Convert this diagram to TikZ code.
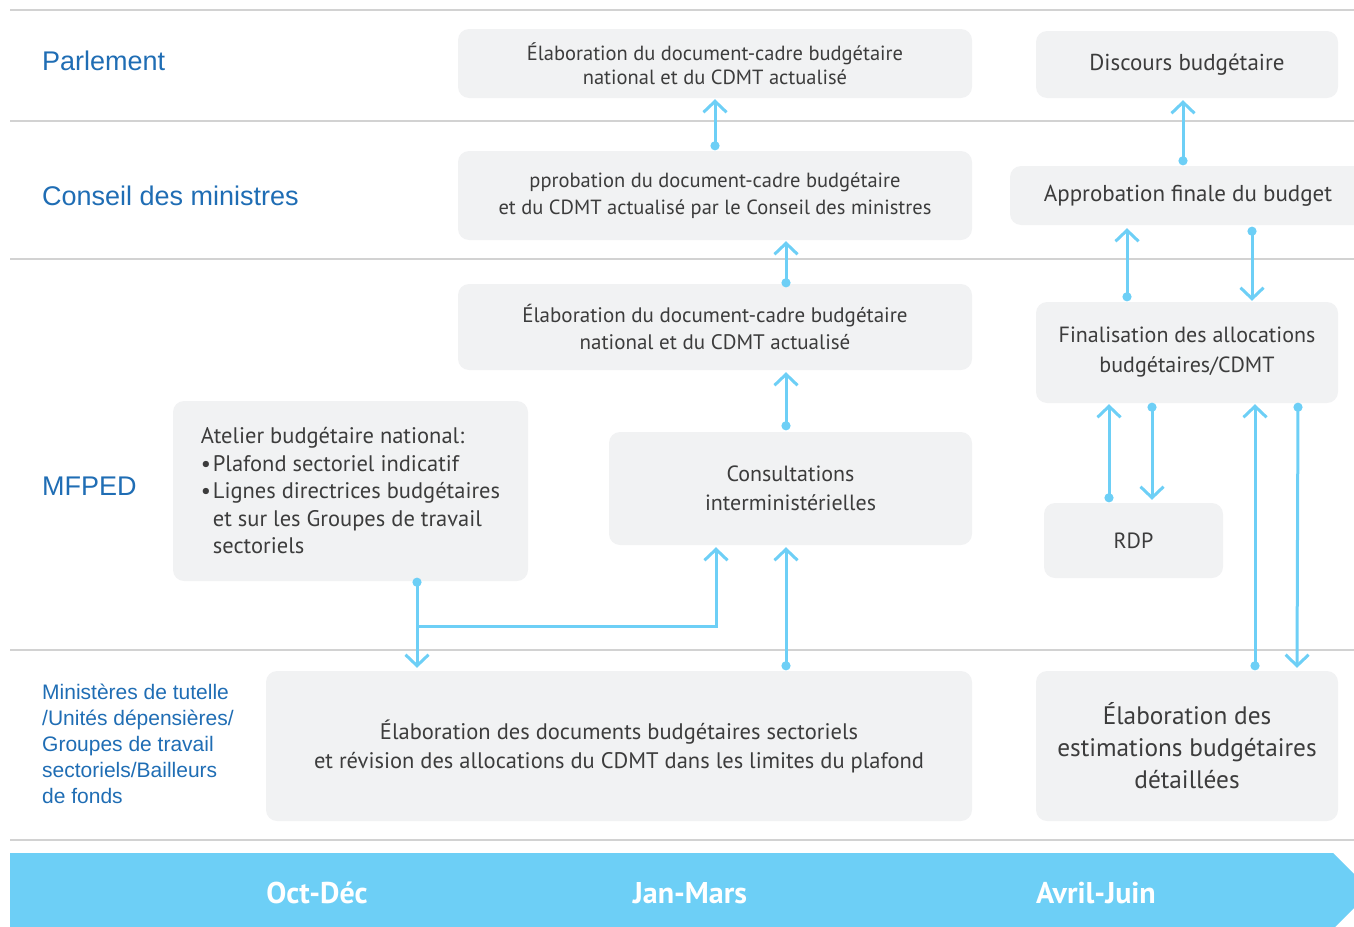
\documentclass[tikz,border=0pt]{standalone}
\usepackage{fontspec}
\setmainfont{PT Sans}
\newfontfamily\rolefont{Liberation Sans}
\usetikzlibrary{arrows.meta,calc}

\definecolor{boxgray}{HTML}{F1F2F3}
\definecolor{rulegray}{HTML}{D2D2D2}
\definecolor{roleblue}{HTML}{1F6DB4}
\definecolor{flowblue}{HTML}{6DCFF6}
\definecolor{boxtext}{HTML}{3C3C3C}

\newcommand{\bul}{\makebox[12pt][l]{\textbullet}}

\tikzset{
  box/.style={fill=boxgray, rounded corners=11pt, inner sep=0pt, text=boxtext, align=center},
  role/.style={anchor=west, inner sep=0pt, text=roleblue, font=\rolefont\fontsize{27}{32}\selectfont},
  rule/.style={draw=rulegray, line width=2pt},
  flow/.style={draw=flowblue, line width=3pt, {Circle[length=9pt]}-{Straight Barb[length=11pt,width=23pt]}},
  flowto/.style={draw=flowblue, line width=3pt, -{Straight Barb[length=11pt,width=23pt]}},
  period/.style={text=white, inner sep=0pt, font=\bfseries\fontsize{30}{34}\selectfont}
}

\begin{document}
\begin{tikzpicture}[x=1pt, y=-1pt]
    \clip (0,0) rectangle (1354,926);

    % Lignes
    \foreach \ypos in {10,121,259,650,840}
        \draw[rule] (10,\ypos) -- (1354,\ypos);

    % Bandeau des periodes
    \fill[flowblue] (10,853) -- (1333,853) -- (1371,891) -- (1333,929) -- (10,929) -- cycle;
    \node[period] (octdec) at (317,893) {Oct-Déc};
    \node[period] (janmars) at (690,893) {Jan-Mars};
    \node[period] (avriljuin) at (1096,893) {Avril-Juin};

    % Acteurs
    \node[role] (parl) at (42,61) {Parlement};
    \node[role] (conseil) at (42,196) {Conseil des ministres};
    \node[role] (mfped) at (42,486) {MFPED};
    \node[role, align=left, font=\rolefont\fontsize{21}{26}\selectfont] (tutelle) at (42,744)
        {Ministères de tutelle\\/Unités dépensières/\\Groupes de travail\\sectoriels/Bailleurs\\de fonds};

    % Boites
    \node[box, minimum width=514pt, minimum height=69pt, font=\fontsize{20.5}{24}\selectfont] (cadreP) at (715,63.5)
        {Élaboration du document-cadre budgétaire\\national et du CDMT actualisé};
    \node[box, minimum width=302pt, minimum height=67pt, font=\fontsize{23}{26}\selectfont] (discours) at (1187,64.5)
        {Discours budgétaire};
    \node[box, minimum width=514pt, minimum height=89pt, font=\fontsize{20.5}{27}\selectfont] (approbCM) at (715,195.5)
        {pprobation du document-cadre budgétaire\\et du CDMT actualisé par le Conseil des ministres};
    \node[box, minimum width=356pt, minimum height=59pt, font=\fontsize{23}{26}\selectfont] (approbFinal) at (1188,195.5)
        {Approbation finale du budget};
    \node[box, minimum width=514pt, minimum height=86pt, font=\fontsize{21}{27}\selectfont] (cadreM) at (715,327)
        {Élaboration du document-cadre budgétaire\\national et du CDMT actualisé};
    \node[box, minimum width=302pt, minimum height=101pt, font=\fontsize{22}{30}\selectfont] (finalis) at (1187,352.5)
        {Finalisation des allocations\\budgétaires/CDMT};
    \node[box, align=left, minimum width=355pt, minimum height=180pt, font=\fontsize{22.5}{27.5}\selectfont] (atelier) at (350.5,491)
        {Atelier budgétaire national:\\\bul Plafond sectoriel indicatif\\\bul Lignes directrices budgétaires\\\hspace*{12pt}et sur les Groupes de travail\\\hspace*{12pt}sectoriels};
    \node[box, minimum width=363pt, minimum height=113pt, font=\fontsize{22}{29}\selectfont] (consult) at (790.5,488.5)
        {Consultations\\interministérielles};
    \node[box, minimum width=179pt, minimum height=75pt, font=\fontsize{22}{26}\selectfont] (rdp) at (1133.5,540.5)
        {RDP};
    \node[box, minimum width=706pt, minimum height=150pt, font=\fontsize{22.5}{29}\selectfont] (sectoriel) at (619,746)
        {Élaboration des documents budgétaires sectoriels\\et révision des allocations du CDMT dans les limites du plafond};
    \node[box, minimum width=302pt, minimum height=150pt, font=\fontsize{25.3}{32}\selectfont] (estim) at (1187,746)
        {Élaboration des\\estimations budgétaires\\détaillées};

    % Fleches
    \draw[flow] ($(approbCM.north)+(0,-0.5)$) -- ($(cadreP.south)+(0,1)$);
    \draw[flow] ($(approbFinal.north)+(-5,-0.5)$) -- ($(discours.south)+(-4,2)$);
    \draw[flow] ($(cadreM.north)+(71,3.5)$) -- ($(approbCM.south)+(71,1)$);
    \draw[flow] ($(finalis.north)+(-60,-0.5)$) -- ($(approbFinal.south)+(-61,3)$);
    \draw[flow] ($(approbFinal.south)+(64,1.5)$) -- ($(finalis.north)+(65,-1)$);
    \draw[flow] ($(consult.north)+(-4.5,-1.5)$) -- ($(cadreM.south)+(71,2)$);
    \draw[flow] ($(rdp.north)+(-24.5,-0.5)$) -- ($(finalis.south)+(-78,1)$);
    \draw[flow] ($(finalis.south)+(-35,-0.5)$) -- ($(rdp.north)+(18.5,-3)$);
    \draw[flow] ($(estim.north)+(68,-0.5)$) -- ($(finalis.south)+(68,1)$);
    \draw[flow] ($(finalis.south)+(111,-0.5)$) -- ($(estim.north)+(110,-3)$);
    \draw[flow] ($(atelier.south)+(66.5,-3.5)$) -- ($(sectoriel.north)+(-202,-3)$);
    \coordinate (split) at ($(atelier.south)+(66.5,45)$);
    \draw[flowto] (split) -| ($(consult.south)+(-74.5,2)$);
    \draw[flow] ($(sectoriel.north)+(167,-0.5)$) -- ($(consult.south)+(-4.5,2)$);
\end{tikzpicture}
\end{document}
